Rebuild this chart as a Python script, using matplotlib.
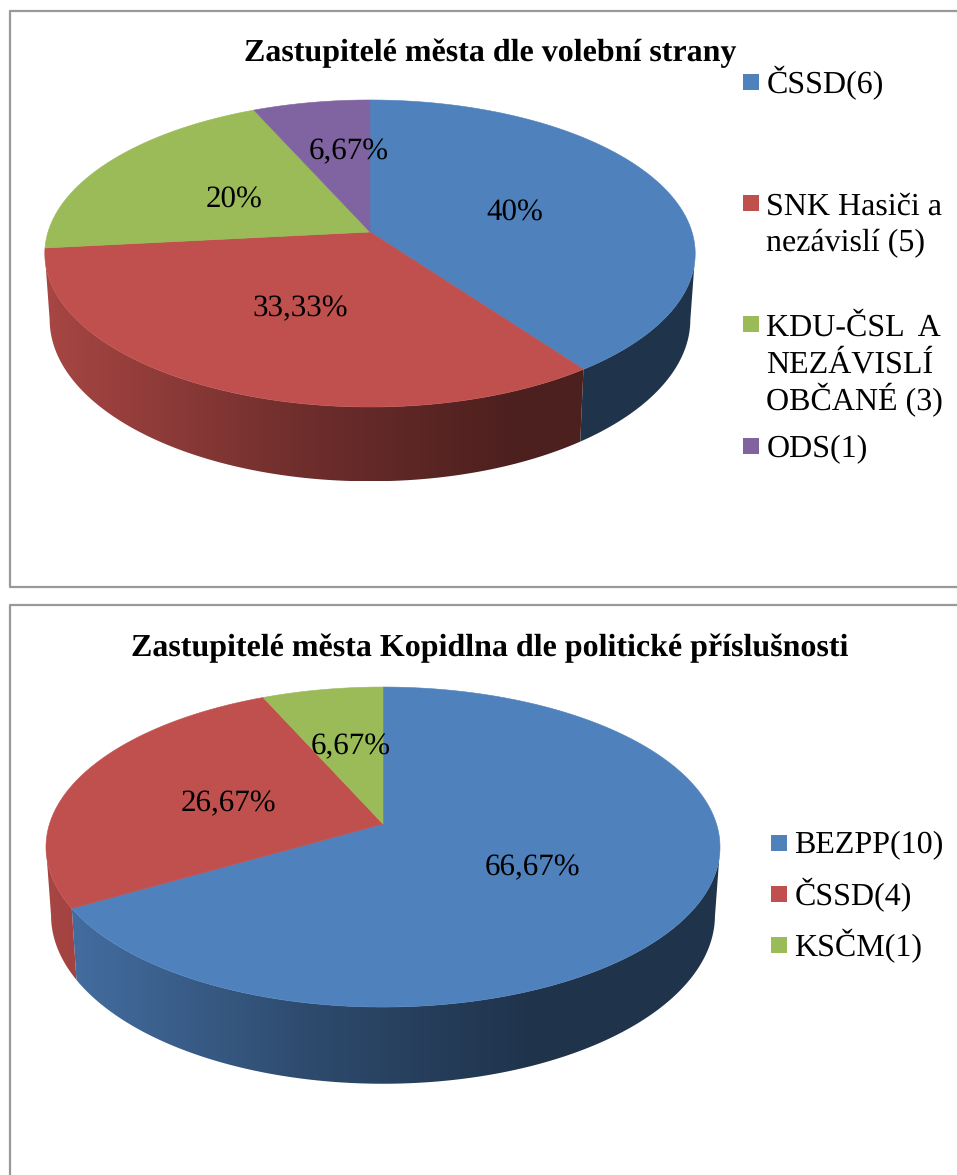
from matplotlib import pyplot as plt
from matplotlib.patches import Polygon
import numpy as np

plt.rcParams['font.family'] = ['Liberation Serif', 'DejaVu Serif']
plt.rcParams['text.hinting'] = 'none'
plt.rcParams['text.hinting_factor'] = 1

title1 = 'Zastupitelé města dle volební strany'
values1 = [6, 5, 3, 1]
pct1 = ['40%', '33,33%', '20%', '6,67%']
legend1 = [['ČSSD(6)'], ['SNK Hasiči a', 'nezávislí (5)'],
           ['KDU-ČSL  A', 'NEZÁVISLÍ', 'OBČANÉ (3)'], ['ODS(1)']]

title2 = 'Zastupitelé města Kopidlna dle politické příslušnosti'
values2 = [10, 4, 1]
pct2 = ['66,67%', '26,67%', '6,67%']
legend2 = [['BEZPP(10)'], ['ČSSD(4)'], ['KSČM(1)']]

colors = ['#4F81BD', '#C0504D', '#9BBB59', '#8064A2']

fig = plt.figure(figsize=(9.57, 11.75), dpi=100)
ax = fig.add_axes([0, 0, 1, 1])


def rgb(col):
    return np.array([int(col[i:i+2], 16) / 255 for i in (1, 3, 5)])


def pie3d(values, cx, cy, b, a, p, cy2, a2):
    # pie seen in perspective, so the ellipse is not centred on the middle of the pie
    edges = np.cumsum([0] + values) / sum(values) * 2 * np.pi

    def top(t):
        d = 1 + p * np.cos(t)
        return cx + b * np.sin(t) / d, cy - a * np.cos(t) / d

    def low(t):
        d = 1 + p * np.cos(t)
        return cx + 0.985 * b * np.sin(t) / d, cy2 - a2 * np.cos(t) / d

    left = cx - b
    for i in range(len(values)):
        t = np.linspace(edges[i], edges[i + 1], 400)
        t = t[np.cos(t) <= -p]
        if len(t) < 2:
            continue
        xt, yt = top(t)
        xl, yl = low(t)
        xs = np.r_[xt, xl[::-1]]
        ys = np.r_[yt, yl[::-1]]
        # side shading runs from left to right
        gx = np.linspace(xs.min(), xs.max(), 300)
        f = np.interp((gx - left) / (2 * b), [0, 0.4, 0.72], [0.87, 0.57, 0.40])
        grad = (rgb(colors[i])[None, :] * f[:, None])[None, :, :]
        im = ax.imshow(grad, extent=(gx[0], gx[-1], ys.max(), ys.min()), aspect='auto',
                       interpolation='bilinear', zorder=1)
        im.set_clip_path(Polygon(np.c_[xs, ys], closed=True, transform=ax.transData))

    for i in range(len(values)):
        t = np.linspace(edges[i], edges[i + 1], 200)
        x, y = top(t)
        ax.fill(np.r_[cx, x], np.r_[cy, y], color=colors[i], lw=0.4, zorder=2)


def legend(items, x, marker_y, baselines):
    for i, lines in enumerate(items):
        ax.add_patch(plt.Rectangle((x, marker_y[i]), 16, 16, color=colors[i], lw=0))
        for line, yy in zip(lines, baselines[i]):
            ax.text(x + 23.5, yy, line, fontsize=23, va='baseline', ha='left', color='black')


# chart frames
frame = '#999999'
ax.plot([957, 9.5, 9.5, 957], [11, 11, 587, 587], color=frame, lw=1.6)
ax.plot([957, 9.5, 9.5], [605, 605, 1175], color=frame, lw=1.6)

pie3d(values1, 370, 232, 322, 150.5, 0.14, 297, 158.5)
pie3d(values2, 383, 824, 333.5, 156.7, 0.144, 891, 165)

ax.text(244, 61, title1, fontsize=23, fontweight='bold', va='baseline', ha='left')
ax.text(131, 656, title2, fontsize=23, fontweight='bold', va='baseline', ha='left')

for s, x, y in zip(pct1, [515, 300, 234, 349], [213, 309, 200, 152]):
    ax.text(x, y, s, fontsize=22.5, ha='center', va='center')
for s, x, y in zip(pct2, [532, 228, 351], [868, 804, 747]):
    ax.text(x, y, s, fontsize=22.5, ha='center', va='center')

legend(legend1, 743, [74, 195, 316, 438], [[93], [215, 251], [336, 373, 410], [457]])
legend(legend2, 771, [835, 886, 937], [[853], [905], [956]])

ax.set_xlim(0, 957)
ax.set_ylim(1175, 0)
ax.axis('off')

fig.savefig('out.png', dpi=100)
